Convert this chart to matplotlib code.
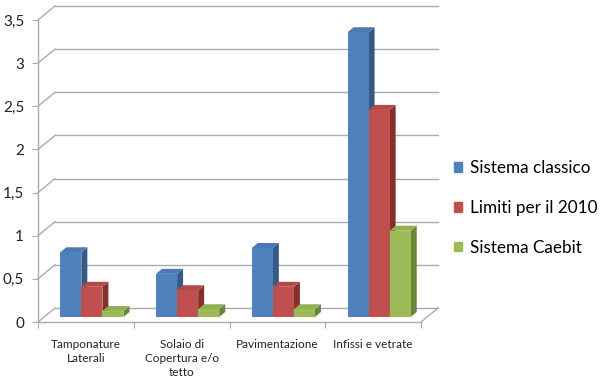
import numpy as np
from matplotlib import pyplot as plt
from matplotlib.patches import Polygon, Patch

plt.rcParams['font.family'] = ['Lato', 'DejaVu Sans']

categories = ["Tamponature\nLaterali", "Solaio di\nCopertura e/o\ntetto",
              "Pavimentazione", "Infissi e vetrate"]
series = ["Sistema classico", "Limiti per il 2010", "Sistema Caebit"]
sistema_classico = [0.75, 0.50, 0.80, 3.30]
limiti_2010 = [0.35, 0.31, 0.35, 2.40]
sistema_caebit = [0.07, 0.09, 0.09, 1.00]
yticks = [0, 0.5, 1, 1.5, 2, 2.5, 3, 3.5]

front = ["#4F81BD", "#C0504D", "#9BBB59"]
top = ["#4A79B3", "#B54B48", "#92B053"]
side = ["#375A85", "#86302E", "#6B853B"]
grid_c = "#ABABAB"

W, H = 600, 385
fig = plt.figure(figsize=(W / 100, H / 100), dpi=100)
ax = fig.add_axes([38 / W, 63 / H, 383 / W, 302 / H])
ax.set_xlim(0, 4)
ax.set_ylim(0, 3.5)

# pixel -> data helpers
px = 4 / 383
py = 3.5 / 302
wall_dx, wall_dy = 17 * px, 14 * py
bar_ox, bar_oy = 6 * px, 5 * py
bar_dx, bar_dy = 6 * px, 5 * py

# back wall gridlines and diagonals
for v in yticks:
    ax.plot([wall_dx, 4 + wall_dx], [v + wall_dy, v + wall_dy], color=grid_c,
            lw=1, clip_on=False, zorder=1)
    ax.plot([0, wall_dx], [v, v + wall_dy], color=grid_c, lw=1,
            clip_on=False, zorder=1)
# floor right edge
ax.plot([4, 4 + wall_dx], [0, wall_dy], color=grid_c, lw=1, clip_on=False, zorder=1)

width = 0.22
values = [sistema_classico, limiti_2010, sistema_caebit]
for j in range(len(categories)):
    for i, vals in enumerate(values):
        v = vals[j]
        x0 = j + 0.5 - 1.5 * width + i * width + bar_ox
        x1 = x0 + width
        b = bar_oy
        t = v + bar_oy
        ax.add_patch(Polygon([(x1, b), (x1 + bar_dx, b + bar_dy),
                              (x1 + bar_dx, t + bar_dy), (x1, t)],
                             closed=True, fc=side[i], ec='none',
                             clip_on=False, zorder=3))
        ax.add_patch(Polygon([(x0, t), (x1, t), (x1 + bar_dx, t + bar_dy),
                              (x0 + bar_dx, t + bar_dy)],
                             closed=True, fc=top[i], ec='none',
                             clip_on=False, zorder=3))
        ax.bar(x0, v, width=width, bottom=b, align='edge', color=front[i],
               zorder=3, clip_on=False)

for s in ['top', 'right']:
    ax.spines[s].set_visible(False)
for s in ['left', 'bottom']:
    ax.spines[s].set_color(grid_c)
    ax.spines[s].set_linewidth(1)

ax.set_yticks(yticks)
ax.set_yticklabels([("%g" % v).replace(".", ",") for v in yticks],
                   fontsize=11, color="#222222")
ax.tick_params(axis='y', length=4, color=grid_c, pad=6)
ax.set_xticks([0, 1, 2, 3, 4])
ax.set_xticklabels([])
ax.set_xticks([0.5, 1.5, 2.5, 3.5], minor=True)
ax.set_xticklabels(categories, minor=True, fontsize=8.5, color="#222222",
                   linespacing=1.35)
ax.tick_params(axis='x', which='major', length=4, color=grid_c)
ax.tick_params(axis='x', which='minor', length=0, pad=12)

handles = [Patch(color=c) for c in front]
fig.legend(handles, series, loc='center left',
           bbox_to_anchor=(454 / W, 1 - 208 / H), frameon=False,
           fontsize=12.3, handlelength=0.45, handleheight=0.45,
           handletextpad=0.5, labelspacing=1.4, borderpad=0, borderaxespad=0)

fig.savefig("out.png", dpi=100)
